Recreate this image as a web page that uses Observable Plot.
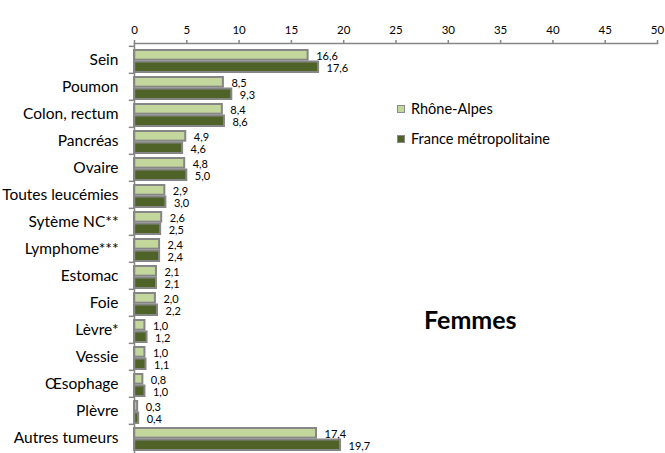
<!DOCTYPE html>
<html>
<head>
<meta charset="utf-8">
<script src="https://cdn.jsdelivr.net/npm/d3@7"></script>
<script src="https://cdn.jsdelivr.net/npm/@observablehq/plot@0.6"></script>
<style>
  body { margin: 0; background: #fff; font-family: Lato, "Liberation Sans", sans-serif; color: #000; }
  #wrap { position: relative; width: 665px; height: 453px; }
  .legend { position: absolute; left: 397px; top: 94px; font-size: 14.5px; line-height: 30px; }
  .legend .item { display: flex; align-items: center; }
  .legend .sw { width: 6px; height: 6px; border: 1.5px solid #8a8a8a; margin-right: 6px; }
  .title { position: absolute; left: 424px; top: 304px; font-size: 25px; line-height: 30px; font-weight: bold; }
</style>
</head>
<body>
<div id="wrap"></div>
<script>
// Taux standardisés, femmes
const categories = [
  "Sein", "Poumon", "Colon, rectum", "Pancréas", "Ovaire", "Toutes leucémies",
  "Sytème NC**", "Lymphome***", "Estomac", "Foie", "Lèvre*", "Vessie",
  "Œsophage", "Plèvre", "Autres tumeurs"
];
const rhoneAlpes   = [16.6, 8.5, 8.4, 4.9, 4.8, 2.9, 2.6, 2.4, 2.1, 2.0, 1.0, 1.0, 0.8, 0.3, 17.4];
const franceMetro  = [17.6, 9.3, 8.6, 4.6, 5.0, 3.0, 2.5, 2.4, 2.1, 2.2, 1.2, 1.1, 1.0, 0.4, 19.7];
const xTicks = [0, 5, 10, 15, 20, 25, 30, 35, 40, 45, 50];
const seriesNames = ["Rhône-Alpes", "France métropolitaine"];
const colors = ["#c3d69b", "#4f6228"];

const rows = categories.map((c, i) => ({cat: c, ra: rhoneAlpes[i], fr: franceMetro[i]}));
const fmt = v => d3.format(".1f")(v).replace(".", ",");

const W = 665, H = 453, mTop = 43;
const bw = (H - mTop) / categories.length;
const grey = "#868686";

const chart = Plot.plot({
  width: W, height: H,
  marginTop: mTop, marginLeft: 134, marginRight: 8, marginBottom: 0,
  style: {fontFamily: "Lato, 'Liberation Sans', sans-serif", color: "#000", background: "#fff"},
  x: {domain: [0, 50]},
  y: {domain: categories, padding: 0},
  marks: [
    Plot.barX(rows, {x: "ra", y: "cat", fill: colors[0], stroke: grey, strokeWidth: 2,
      insetTop: 4, insetBottom: bw - 14}),
    Plot.barX(rows, {x: "fr", y: "cat", fill: colors[1], stroke: grey, strokeWidth: 2,
      insetTop: 15.5, insetBottom: 1}),
    Plot.text(rows, {x: "ra", y: "cat", text: d => fmt(d.ra), textAnchor: "start", dx: 8, dy: -4, fontSize: 11}),
    Plot.text(rows, {x: "fr", y: "cat", text: d => fmt(d.fr), textAnchor: "start", dx: 8, dy: 8, fontSize: 11}),
    Plot.frame({anchor: "top", stroke: grey, strokeWidth: 1.5}),
    Plot.frame({anchor: "left", stroke: grey, strokeWidth: 1.5}),
    Plot.axisX({anchor: "top", ticks: xTicks, tickFormat: d => d, tickSize: 4, tickPadding: 6,
      stroke: grey, strokeWidth: 1.5, fontSize: 11.5, label: null}),
    Plot.ruleY(categories, {y: d => d, x1: -0.5, x2: 0, dy: -bw / 2, stroke: grey, strokeWidth: 1.5}),
    Plot.axisY({tickSize: 0, tickPadding: 16, fontSize: 15.5, label: null})
  ]
});

const wrap = document.getElementById("wrap");
wrap.appendChild(chart);

const legend = document.createElement("div");
legend.className = "legend";
seriesNames.forEach((name, i) => {
  const item = document.createElement("div");
  item.className = "item";
  const sw = document.createElement("span");
  sw.className = "sw";
  sw.style.background = colors[i];
  item.appendChild(sw);
  item.appendChild(document.createTextNode(name));
  legend.appendChild(item);
});
wrap.appendChild(legend);

const title = document.createElement("div");
title.className = "title";
title.textContent = "Femmes";
wrap.appendChild(title);
</script>
</body>
</html>
